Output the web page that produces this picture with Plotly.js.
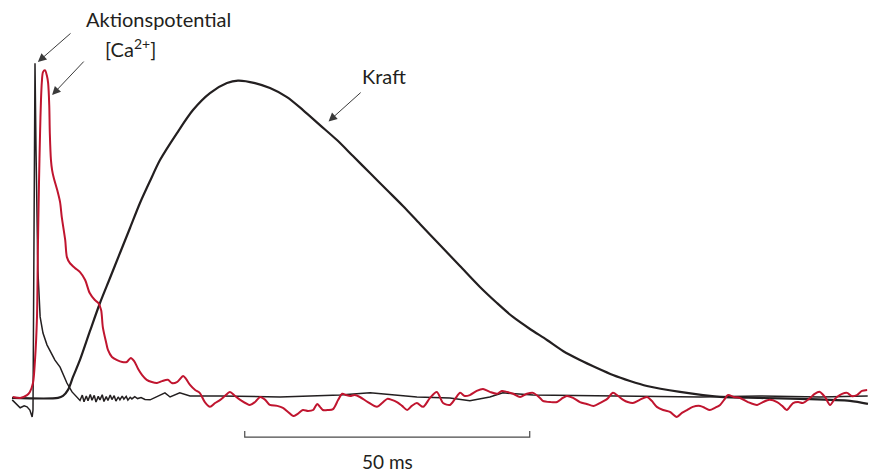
<!DOCTYPE html>
<html><head><meta charset="utf-8">
<script src="https://cdn.plot.ly/plotly-3.0.1.min.js"></script>
<style>body{margin:0;background:#fff}#c{width:870px;height:472px}</style>
</head><body><div id="c"></div>
<script>
// time in ms, signal in % of peak force
const kraftT = [-4.04,4.04,4.91,5.79,6.67,7.89,9.65,11.40,13.16,14.91,16.67,18.42,20.18,21.93,24.91,27.72,30.70,33.68,35.61,38.60,41.23,44.21,47.02,50.0,52.98,55.79,58.77,61.75,64.56,67.54,71.05,74.56,78.07,81.05,83.86,86.84,89.82,92.63,95.61,98.60,101.40,104.39,107.37,113.16,120.18,127.19,134.21,142.98,146.14];
const kraftY = [0,0,0.63,2.52,6.60,11.95,21.07,29.87,37.74,45.60,53.46,61.32,68.24,74.84,83.33,90.57,95.91,99.06,99.84,99.06,97.48,94.65,90.57,85.85,81.13,76.10,70.75,65.41,60.38,54.72,48.11,41.51,34.91,29.87,25.47,21.70,18.24,14.78,11.95,9.43,7.23,5.35,3.77,1.89,0.31,0,-0.31,-0.94,-1.89];

const apT = [-4.0,-3.3,-2.6,-1.9,-1.4,-0.9,-0.5,-0.35,-0.18,0,0.18,0.35,0.5,0.9,1.4,2.1,2.6,3.5,4.4,5.6,6.5,7.4,
  7.9,8.3,8.6,9.0,9.3,9.7,10.0,10.4,10.7,11.1,11.4,11.8,12.1,12.5,12.8,13.2,13.5,13.9,14.2,14.6,14.9,15.3,15.6,16.0,16.3,16.7,17.0,17.5,18.0,18.6,19.3,20.2,
  21.9,22.8,23.7,25.4,27.2,32.5,43.0,53.5,58.8,67.0,72.8,76.3,79.8,82.1,87.4,99.1,107.9,116.7,127.2,137.7,146.1];
const apY = [-0.6,-1.9,-3.1,-2.5,-2.8,-3.8,-6.0,-3.8,46.5,105.3,78,52.8,40.3,25.5,20.4,16.7,15.1,11.9,9.7,4.7,1.9,0.3,
  -0.8,0.9,-1.2,0.6,-0.9,1.1,-0.7,0.8,-1.3,0.5,-0.6,1.0,-1.1,0.4,-0.8,0.9,-0.5,0.7,-1.0,0.3,-0.6,0.6,-0.4,0.5,-0.7,0.2,-0.3,0.4,-0.2,0.1,-0.5,-0.6,
  0.9,1.6,0.3,1.6,0.6,0.6,0.3,0.9,1.6,0.3,0,-0.9,0.3,1.6,0.9,0.6,0.3,0.3,0.6,0.3,0.6];

const caT = [-3.9,-2.6,-1.4,-0.9,-0.35,0,0.35,0.5,0.7,0.9,1.05,1.2,1.4,1.75,2.1,2.3,2.5,2.6,2.8,3.0,3.3,3.9,4.4,4.7,5.3,5.6,6.1,7.0,7.9,8.8,9.6,10.5,11.1,11.6,11.9,12.5,12.8,13.5,14.4,15.3,16.1,16.8,17.4,18.1,18.8,19.6,20.5,21.4,22.3,23.3,24.0,24.9,26.0,26.5,27.2,28.1,28.9,29.8,30.7,31.6,32.5,33.3,34.2,35.1,36.0,37.7,38.6,39.5,40.4,41.2,42.5,43.5,44.4,45.3,46.1,47.0,47.9,48.8,49.5,50.0,50.5,51.4,52.3,53.2,53.9,54.6,55.3,56.1,57.0,58.4,60.0,60.9,61.8,62.6,63.5,64.4,65.3,66.1,67.0,68.1,69.3,70.5,71.6,72.8,73.7,74.6,75.4,76.3,77.5,78.6,79.8,81.1,81.9,82.8,83.9,85.1,86.3,87.4,88.6,89.1,90.4,91.6,92.6,93.3,94.4,95.6,96.8,98.0,99.1,100.4,101.4,102.3,103.2,104.0,104.9,106.1,107.4,108.2,109.1,110.2,111.4,112.6,113.5,114.4,115.4,116.7,117.5,118.4,119.3,120.2,120.9,121.6,122.6,123.7,125.1,126.7,127.7,128.9,130.2,131.1,131.9,133.0,133.9,134.7,136.0,136.8,137.7,138.6,139.5,140.2,140.7,141.6,142.5,143.3,144.2,145.1,146.0];
const caY = [0.3,0,0.9,1.9,4.7,11.9,25.5,46.5,67.6,84.3,93.7,99.4,102.5,103.1,101.3,99.1,92.1,83.3,74.8,71.7,69.2,65.4,61.6,56.9,49.7,44.3,42.5,40.9,39.6,37.1,33.0,30.8,29.9,27.7,22.3,17.3,15.1,12.9,11.9,11.3,11.3,12.6,11.6,9.1,7.2,5.7,5.0,4.7,5.3,5.7,4.7,5.0,6.9,6.0,4.1,2.5,1.6,-1.3,-2.8,-1.6,-0.6,0.6,1.9,0.6,-0.6,-2.2,-1.3,0.3,-0.6,-2.2,-2.5,-3.1,-4.4,-5.7,-5.0,-3.8,-4.1,-3.8,-1.9,-2.8,-3.8,-3.8,-3.5,-0.6,1.3,0.9,0.6,0.9,0.3,-1.3,-2.8,-1.6,-0.3,-0.6,-1.3,-2.5,-3.8,-2.5,-1.6,-2.8,0,1.9,-1.6,-2.2,-0.3,1.6,0.6,0.9,2.2,2.8,1.9,1.3,2.2,1.9,1.3,0.3,1.3,1.6,0,-0.9,-1.3,-1.3,0,0.6,0,-1.3,-1.9,-2.5,-1.6,-0.3,1.6,0.6,-0.6,-1.3,-1.6,-0.6,0.3,-0.9,-2.8,-3.8,-4.4,-6.0,-4.7,-3.8,-2.8,-2.5,-3.1,-3.8,-3.1,-2.2,-0.6,0.9,0.3,0,-1.3,-2.2,-1.3,-0.6,-1.3,-2.5,-3.8,-1.6,-1.3,-1.6,0,1.3,1.9,0.3,-2.2,-0.6,0.3,1.3,1.6,0.6,0.9,2.2,2.5];

const scaleStart = 36.8, scaleLen = 50, scaleLabel = '50 ms';
const labels = ['Aktionspotential', '[Ca<sup>2+</sup>]', 'Kraft'];

const ink = '#231f20', red = '#c0152f', grey = '#4a4a4a';
const font = 'Lato, "Open Sans", sans-serif';

const traces = [
  {x: kraftT, y: kraftY, mode: 'lines', line: {color: ink, width: 2.2, shape: 'spline', smoothing: 0.8}, hoverinfo: 'skip'},
  {x: apT, y: apY, mode: 'lines', line: {color: ink, width: 1.5}, hoverinfo: 'skip'},
  {x: caT, y: caY, mode: 'lines', line: {color: red, width: 2, shape: 'spline', smoothing: 0.8}, hoverinfo: 'skip'},
  {x: [scaleStart, scaleStart, scaleStart + scaleLen, scaleStart + scaleLen], y: [-10.4, -12.3, -12.3, -10.4],
   mode: 'lines', line: {color: grey, width: 1.2}, hoverinfo: 'skip'}
];

const arrow = (hx, hy, tx, ty) => ({x: hx, y: hy, ax: tx, ay: ty, axref: 'x', ayref: 'y', xref: 'x', yref: 'y',
  text: '', showarrow: true, arrowhead: 2, arrowsize: 1.7, arrowwidth: 1, arrowcolor: '#3a3a3a', standoff: 0});

const layout = {
  width: 870, height: 472, margin: {l: 0, r: 0, t: 0, b: 0},
  paper_bgcolor: '#fff', plot_bgcolor: '#fff', showlegend: false,
  xaxis: {range: [-6.14, 146.5], visible: false, fixedrange: true},
  yaxis: {range: [-23.3, 125.2], visible: false, fixedrange: true},
  annotations: [
    {x: 21.6, y: 119.2, text: labels[0], showarrow: false, font: {family: font, size: 20, color: ink}},
    {x: 16.7, y: 110.0, text: labels[1], showarrow: false, font: {family: font, size: 20, color: ink}},
    {x: 61.2, y: 101.3, text: labels[2], showarrow: false, font: {family: font, size: 20, color: ink}},
    {x: scaleStart + scaleLen / 2, y: -20.1, text: scaleLabel, showarrow: false, font: {family: font, size: 19, color: ink}},
    arrow(0.5, 105.7, 6.5, 115.1),
    arrow(3.0, 95.3, 8.8, 106.3),
    arrow(51.5, 87.0, 57.4, 96.5)
  ]
};
Plotly.newPlot('c', traces, layout, {staticPlot: true});
</script></body></html>
